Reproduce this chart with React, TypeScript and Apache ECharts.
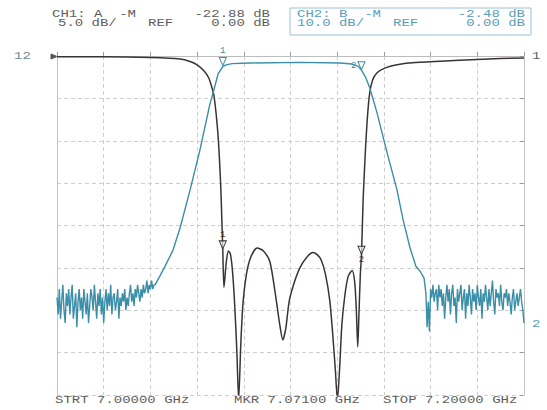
import React, { useEffect, useRef } from "react";
import * as echarts from "echarts";

// Sweep
const START_GHZ = 7.0;
const STOP_GHZ = 7.2;
const FREQ_DIV = 0.02;

// CH1 (black): 5 dB/div, ref 0 dB ; CH2 (blue): 10 dB/div, ref 0 dB
const CH1_SCALE = 5;
const CH2_SCALE = 10;
const DIVS = 8;

// CH1 trace [GHz, dB]
const ch1Freq = [
  7.0, 7.0201, 7.0403, 7.0527, 7.057, 7.06, 7.063, 7.065, 7.066, 7.0671, 7.0681, 7.0691, 7.0701, 7.0706,
  7.071, 7.0715, 7.0725, 7.0734, 7.0743, 7.0752, 7.0761, 7.077, 7.0778, 7.0787, 7.0796, 7.0811, 7.0829,
  7.0857, 7.0884, 7.0912, 7.0939, 7.0954, 7.0967, 7.098, 7.0994, 7.1013, 7.104, 7.1068, 7.1095, 7.1113,
  7.1132, 7.115, 7.1168, 7.1181, 7.1192, 7.1201, 7.1211, 7.122, 7.1233, 7.1247, 7.1264, 7.1275, 7.1282,
  7.1288, 7.1293, 7.1299, 7.1304, 7.1311, 7.1321, 7.133, 7.1339, 7.1352, 7.137, 7.1406, 7.1462, 7.1535,
  7.17, 7.1799, 7.1897, 7.2,
];
const ch1dB = [
  -0.1, -0.1, -0.18, -0.35, -0.65, -1.06, -1.77, -2.6, -3.4, -4.5, -6.7, -9.9, -15.2, -19.4,
  -22.88, -27.3, -24.3, -23.0, -23.4, -25.5, -29.4, -34.7, -40.6, -34.1, -29.4, -25.8, -23.8,
  -22.65, -23.0, -24.3, -28.8, -31.7, -33.5, -32.1, -29.0, -27.0, -25.0, -23.8, -23.2, -23.4,
  -24.1, -25.8, -28.8, -32.9, -37.0, -40.6, -36.5, -31.7, -28.2, -26.0, -25.3, -26.7, -30.0,
  -34.3, -30.6, -25.8, -23.5, -17.0, -11.1, -7.0, -4.4, -2.8, -2.0, -1.4, -1.0, -0.77,
  -0.53, -0.4, -0.3, -0.24,
];

// CH2 trace: stopband noise (0.5 MHz steps) + skirts and passband [GHz, dB]
const ch2LeftNoiseStart = 7.0;
const ch2RightNoiseStart = 7.158;
const ch2NoiseStep = 0.0005;
const ch2LeftNoise = [
  -57, -61, -55, -62, -58, -54, -60, -63, -56, -59,
  -55, -61, -57, -54, -62, -59, -56, -64, -58, -55,
  -60, -57, -62, -55, -58, -61, -56, -63, -59, -55,
  -57, -60, -54, -58, -62, -56, -59, -55, -61, -57,
  -63, -58, -55, -60, -56, -59, -54, -61, -57, -56,
  -60, -58, -55, -62, -57, -59, -56, -58, -55, -60,
  -57, -59, -56, -54, -58, -56, -59, -55, -57, -54,
  -56, -58, -55, -57, -54, -56, -55, -53, -56, -54,
  -55, -53, -55, -54, -54,
];
const ch2BandFreq = [
  7.0441, 7.0463, 7.0497, 7.0527, 7.057, 7.0612, 7.0655, 7.0672, 7.069, 7.071, 7.0724, 7.075,
  7.0827, 7.1041, 7.1212, 7.1263, 7.1289, 7.1306, 7.1323, 7.134, 7.137, 7.1413, 7.1456, 7.1482,
  7.1512, 7.1537, 7.1555, 7.1572,
];
const ch2BanddB = [
  -51.9, -49.6, -45.8, -40.6, -31.6, -22.2, -11.3, -8.0, -4.2, -2.48, -2.1, -1.8,
  -1.65, -1.5, -1.65, -1.9, -2.4, -3.5, -5.2, -7.6, -13.3, -22.7, -31.6, -38.6,
  -45.3, -49.6, -50.8, -52.4,
];
const ch2RightNoise = [
  -56, -64, -58, -65, -55, -57, -54, -58, -56, -55,
  -60, -54, -57, -55, -59, -56, -62, -57, -54, -58,
  -55, -61, -56, -54, -59, -57, -63, -55, -58, -56,
  -54, -60, -57, -55, -62, -56, -59, -54, -57, -61,
  -55, -58, -56, -60, -54, -57, -59, -55, -62, -56,
  -58, -54, -57, -60, -55, -59, -56, -53, -58, -61,
  -55, -57, -56, -59, -54, -58, -60, -56, -57, -55,
  -59, -56, -58, -61, -57, -55, -60, -58, -56, -59,
  -57, -55, -58, -60, -63,
];

// Markers
const markerFreq = [7.071, 7.1304];
const markerCh1 = [-22.88, -23.5];
const markerCh2 = [-2.48, -3.5];

// Annotation texts
const ch1Header = ["CH1: A  -M", "-22.88 dB", "5.0 dB/", "REF", "0.00 dB"];
const ch2Header = ["CH2: B  -M", "-2.48 dB", "10.0 dB/", "REF", "0.00 dB"];
const footer = ["STRT 7.00000 GHz", "MKR 7.07100 GHz", "STOP 7.20000 GHz"];

const BLACK = "#3b3333";
const BLUE = "#3a8ea8";
const TXT = "#5e5e5e";
const TXT_BLUE = "#5a9dbb";
const FONT = '10px "Liberation Mono", "DejaVu Sans Mono", monospace';

function txt(text: string, x: number, y: number, align: string, fill: string) {
  return {
    type: "text",
    x,
    y,
    scaleX: 1.4,
    silent: true,
    style: { text, fill, font: FONT, textAlign: align, textVerticalAlign: "middle" },
  };
}

export default function App() {
  const ref = useRef<HTMLDivElement>(null);
  useEffect(() => {
    if (!ref.current) return;
    const chart = echarts.init(ref.current, undefined, { renderer: "svg" });

    const ch1Data = ch1Freq.map((f, i) => [f, ch1dB[i]]);
    const ch2Data: number[][] = [];
    ch2LeftNoise.forEach((v, i) => ch2Data.push([ch2LeftNoiseStart + i * ch2NoiseStep, v]));
    ch2BandFreq.forEach((f, i) => ch2Data.push([f, ch2BanddB[i]]));
    ch2RightNoise.forEach((v, i) => ch2Data.push([ch2RightNoiseStart + i * ch2NoiseStep, v]));

    const mp = (vals: number[], color: string, labelPos: string[]) => ({
      symbol: "triangle",
      symbolSize: [7, 8],
      symbolRotate: 180,
      symbolOffset: [0, -5],
      itemStyle: { color: "rgba(255,255,255,0.6)", borderColor: color, borderWidth: 1 },
      data: markerFreq.map((f, i) => ({
        coord: [f, vals[i]],
        label: {
          show: true,
          formatter: String(i + 1),
          position: labelPos[i],
          distance: 1,
          color,
          fontSize: 9,
          fontFamily: "Liberation Mono",
        },
      })),
    });

    const gridLine = { show: true, lineStyle: { color: "#cfcfcf", width: 1, type: [4, 3] } };

    chart.setOption({
      animation: false,
      backgroundColor: "#ffffff",
      grid: { left: 57, right: 23, top: 56, bottom: 15 },
      xAxis: {
        type: "value",
        min: START_GHZ,
        max: STOP_GHZ,
        interval: FREQ_DIV,
        axisLabel: { show: false },
        axisLine: { show: true, lineStyle: { color: "#bdbdbd" } },
        axisTick: { show: true, inside: true, length: 4, lineStyle: { color: "#9a9a9a" } },
        splitLine: gridLine,
      },
      yAxis: [
        {
          type: "value",
          min: -CH1_SCALE * DIVS,
          max: 0,
          interval: CH1_SCALE,
          axisLabel: { show: false },
          axisLine: { show: true, lineStyle: { color: "#c4c4c4" } },
          axisTick: { show: false },
          splitLine: gridLine,
        },
        {
          type: "value",
          min: -CH2_SCALE * DIVS,
          max: 0,
          interval: CH2_SCALE,
          position: "right",
          axisLabel: { show: false },
          axisLine: { show: true, lineStyle: { color: "#c4c4c4" } },
          axisTick: { show: true, inside: true, length: 4, lineStyle: { color: "#9a9a9a" } },
          splitLine: { show: false },
        },
      ],
      series: [
        {
          type: "line",
          name: "CH1",
          yAxisIndex: 0,
          data: ch1Data,
          showSymbol: false,
          smooth: 0.25,
          clip: true,
          lineStyle: { color: BLACK, width: 1.5 },
          markPoint: mp(markerCh1, BLACK, ["top", "bottom"]),
          z: 3,
        },
        {
          type: "line",
          name: "CH2",
          yAxisIndex: 1,
          data: ch2Data,
          showSymbol: false,
          clip: true,
          lineStyle: { color: BLUE, width: 1.4 },
          markPoint: mp(markerCh2, BLUE, ["top", "left"]),
          z: 4,
        },
      ],
      graphic: [
        txt(ch1Header[0], 52, 15, "left", TXT),
        txt(ch1Header[1], 270, 15, "right", TXT),
        txt(ch1Header[2], 58, 24, "left", TXT),
        txt(ch1Header[3], 148, 24, "left", TXT),
        txt(ch1Header[4], 270, 24, "right", TXT),
        {
          type: "rect",
          silent: true,
          shape: { x: 290, y: 8, width: 241, height: 27 },
          style: { fill: "none", stroke: "#9cc2d4", lineWidth: 1 },
        },
        txt(ch2Header[0], 297, 15, "left", TXT_BLUE),
        txt(ch2Header[1], 525, 15, "right", TXT_BLUE),
        txt(ch2Header[2], 297, 24, "left", TXT_BLUE),
        txt(ch2Header[3], 393, 24, "left", TXT_BLUE),
        txt(ch2Header[4], 525, 24, "right", TXT_BLUE),
        txt(footer[0], 55, 401, "left", TXT),
        txt(footer[1], 234, 401, "left", TXT),
        txt(footer[2], 383, 401, "left", TXT),
        txt("12", 14, 57, "left", "#6d8a98"),
        txt("1", 532, 57, "left", TXT),
        txt("2", 532, 325, "left", TXT_BLUE),
        {
          type: "polygon",
          silent: true,
          shape: { points: [[51, 54], [57, 56.5], [51, 59]] },
          style: { fill: "#555", stroke: "#555" },
        },
      ],
    });
    return () => chart.dispose();
  }, []);
  return (
    <div
      ref={ref}
      style={{ position: "fixed", left: 0, top: 0, width: 547, height: 410, background: "#fff" }}
    />
  );
}
